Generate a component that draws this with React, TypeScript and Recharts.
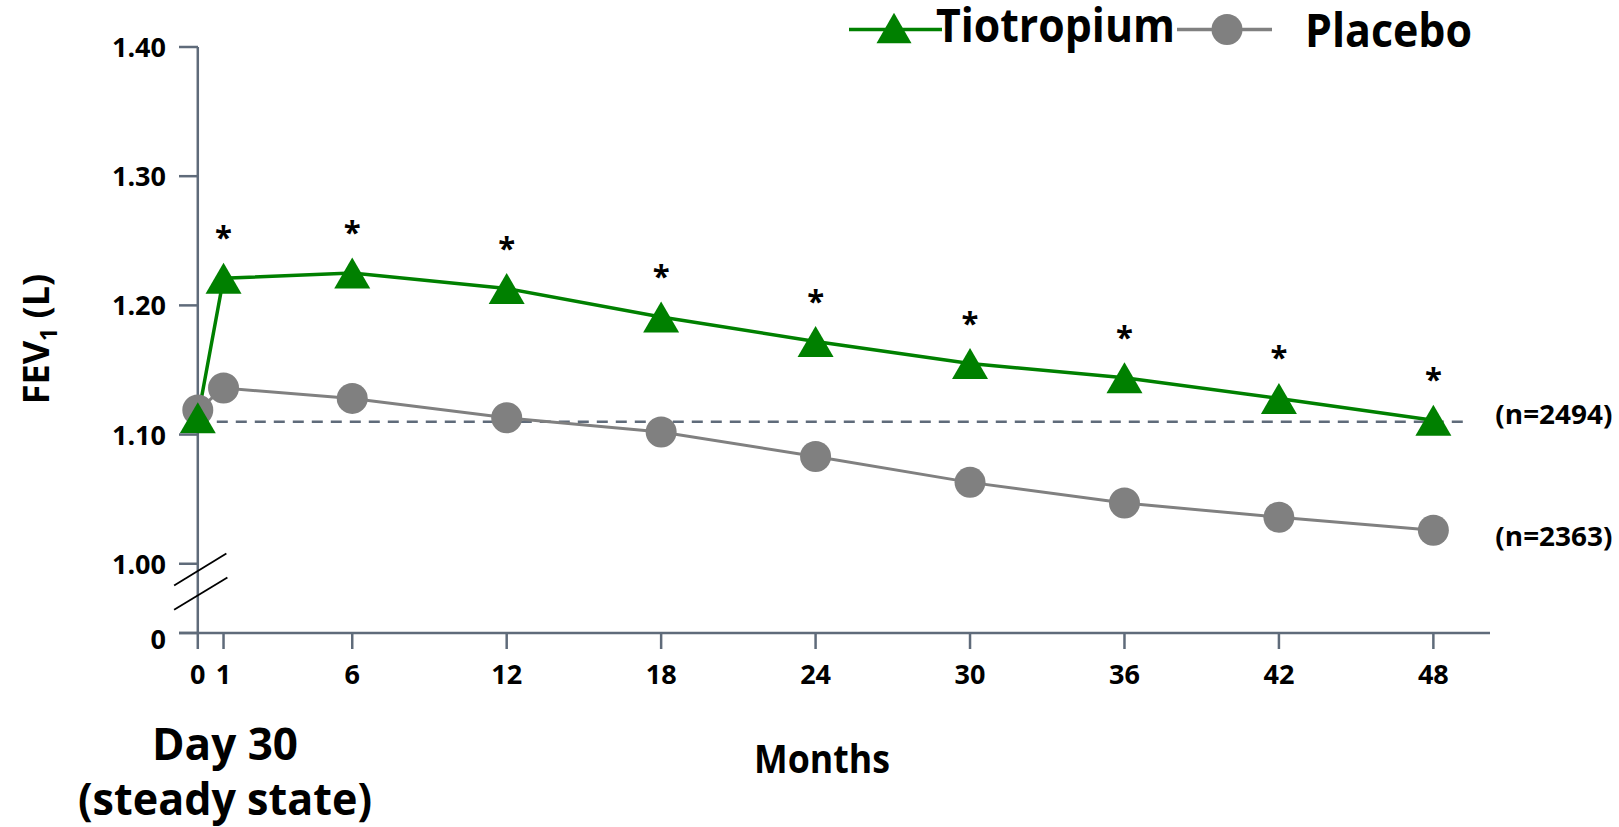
import { LineChart, Line, XAxis, YAxis, ReferenceLine, LabelList, Customized } from 'recharts';

const months = [0, 1, 6, 12, 18, 24, 30, 36, 42, 48];
const tiotropium = [1.113, 1.221, 1.225, 1.213, 1.191, 1.172, 1.155, 1.144, 1.128, 1.111];
const placebo = [1.119, 1.136, 1.128, 1.113, 1.102, 1.083, 1.063, 1.047, 1.036, 1.026];
const significant = [false, true, true, true, true, true, true, true, true, true];
const sampleSizes = ['(n=2494)', '(n=2363)'];

// broken axis: value Y_BREAK stands for 0
const Y_BREAK = 0.9464;
const yTicks = [Y_BREAK, 1.0, 1.1, 1.2, 1.3, 1.4];
const baseline = 1.11;

const FONT = "'Open Sans', sans-serif";
const AXIS = '#5f6b7a';
const GREEN = '#008000';
const GRAY = '#808080';

const data = months.map((m, i) => ({ month: m, tio: tiotropium[i], pla: placebo[i], sig: significant[i] }));

function YTick(props: any) {
  const { x, y, payload } = props;
  const isZero = payload.value === Y_BREAK;
  return (
    <g>
      <line x1={x} x2={x + 19} y1={y} y2={y} stroke={AXIS} strokeWidth={2.5} />
      <text x={x - 13} y={y + (isZero ? 16 : 10)} textAnchor="end" fontFamily={FONT} fontWeight={700} fontSize={27} fill="#000">
        {isZero ? '0' : payload.value.toFixed(2)}
      </text>
    </g>
  );
}

function Triangle(props: any) {
  const { cx, cy, index } = props;
  return <polygon key={index} points={`${cx},${cy - 15.5} ${cx - 18},${cy + 15.5} ${cx + 18},${cy + 15.5}`} fill={GREEN} />;
}

function Circle(props: any) {
  const { cx, cy, index } = props;
  return <circle key={index} cx={cx} cy={cy} r={15.5} fill={GRAY} />;
}

function Star(props: any) {
  const { x, y, index } = props;
  if (!data[index]?.sig) return null;
  return (
    <text x={x} y={y - 30} textAnchor="middle" fontFamily={FONT} fontWeight={700} fontSize={31} fill="#000">*</text>
  );
}

const nLabel = (label: string, dy: number) => (props: any) => {
  const { x, y, index } = props;
  if (index !== data.length - 1) return null;
  return (
    <text x={x + 62} y={y + dy} textLength={117} lengthAdjust="spacingAndGlyphs" fontFamily={FONT} fontWeight={700} fontSize={26} fill="#000">
      {label}
    </text>
  );
};

function Decorations() {
  const t = { fontFamily: FONT, fontWeight: 700, fill: '#000' } as const;
  return (
    <g>
      {/* legend */}
      <line x1={849} x2={942} y1={29.5} y2={29.5} stroke={GREEN} strokeWidth={3.5} />
      <polygon points="894,12.7 876.5,43.3 911.5,43.3" fill={GREEN} />
      <text x={936} y={42} fontSize={46} textLength={239} lengthAdjust="spacingAndGlyphs" {...t}>Tiotropium</text>
      <line x1={1177} x2={1272} y1={29.5} y2={29.5} stroke={GRAY} strokeWidth={3.5} />
      <circle cx={1227} cy={29.5} r={15.5} fill={GRAY} />
      <text x={1305} y={46.5} fontSize={46} textLength={167} lengthAdjust="spacingAndGlyphs" {...t}>Placebo</text>

      {/* y title */}
      <text transform="translate(49,339) rotate(-90)" textAnchor="middle" fontSize={36} {...t}>
        FEV<tspan fontSize={23} dy={8}>1</tspan><tspan dy={-8}> (L)</tspan>
      </text>

      {/* x title */}
      <text x={822} y={773} textAnchor="middle" fontSize={39} textLength={136} lengthAdjust="spacingAndGlyphs" {...t}>Months</text>
      <text x={225} y={760} textAnchor="middle" fontSize={45} textLength={146} lengthAdjust="spacingAndGlyphs" {...t}>Day 30</text>
      <text x={225} y={815} textAnchor="middle" fontSize={45} textLength={294} lengthAdjust="spacingAndGlyphs" {...t}>(steady state)</text>
    </g>
  );
}

export default function App() {
  return (
    <div style={{ position: 'absolute', left: 0, top: 0, background: '#fff' }}>
      <LineChart width={1619} height={827} data={data} margin={{ top: 47, right: 129, left: 99, bottom: 134 }}>
        <XAxis
          dataKey="month"
          type="number"
          domain={[-0.73, 50.2]}
          ticks={months}
          interval={0}
          height={60}
          tickSize={16}
          tickMargin={16}
          axisLine={{ stroke: AXIS, strokeWidth: 2.5 }}
          tickLine={{ stroke: AXIS, strokeWidth: 2.5 }}
          tick={{ fill: '#000', fontSize: 27, fontWeight: 700, fontFamily: FONT }}
        />
        <YAxis
          type="number"
          domain={[Y_BREAK, 1.4]}
          ticks={yTicks}
          interval={0}
          width={80}
          tickSize={0}
          tickMargin={0}
          axisLine={false}
          tickLine={false}
          tick={<YTick />}
        />
        <ReferenceLine x={0} stroke={AXIS} strokeWidth={2.5} ifOverflow="visible" />
        <ReferenceLine segment={[{ x: 0, y: baseline }, { x: 49.2, y: baseline }]} stroke={AXIS} strokeWidth={2.5} strokeDasharray="11 8" ifOverflow="visible" />
        <ReferenceLine segment={[{ x: -0.92, y: 0.9832 }, { x: 1.11, y: 1.008 }]} stroke="#000" strokeWidth={1.8} ifOverflow="visible" />
        <ReferenceLine segment={[{ x: -0.92, y: 0.9644 }, { x: 1.15, y: 0.9894 }]} stroke="#000" strokeWidth={1.8} ifOverflow="visible" />
        <Line dataKey="pla" stroke={GRAY} strokeWidth={3} dot={<Circle />} activeDot={false} isAnimationActive={false}>
          <LabelList dataKey="pla" content={nLabel(sampleSizes[1], 16)} />
        </Line>
        <Line dataKey="tio" stroke={GREEN} strokeWidth={3.5} dot={<Triangle />} activeDot={false} isAnimationActive={false}>
          <LabelList dataKey="tio" content={<Star />} />
          <LabelList dataKey="tio" content={nLabel(sampleSizes[0], 4)} />
        </Line>
        <Customized component={<Decorations />} />
      </LineChart>
    </div>
  );
}
